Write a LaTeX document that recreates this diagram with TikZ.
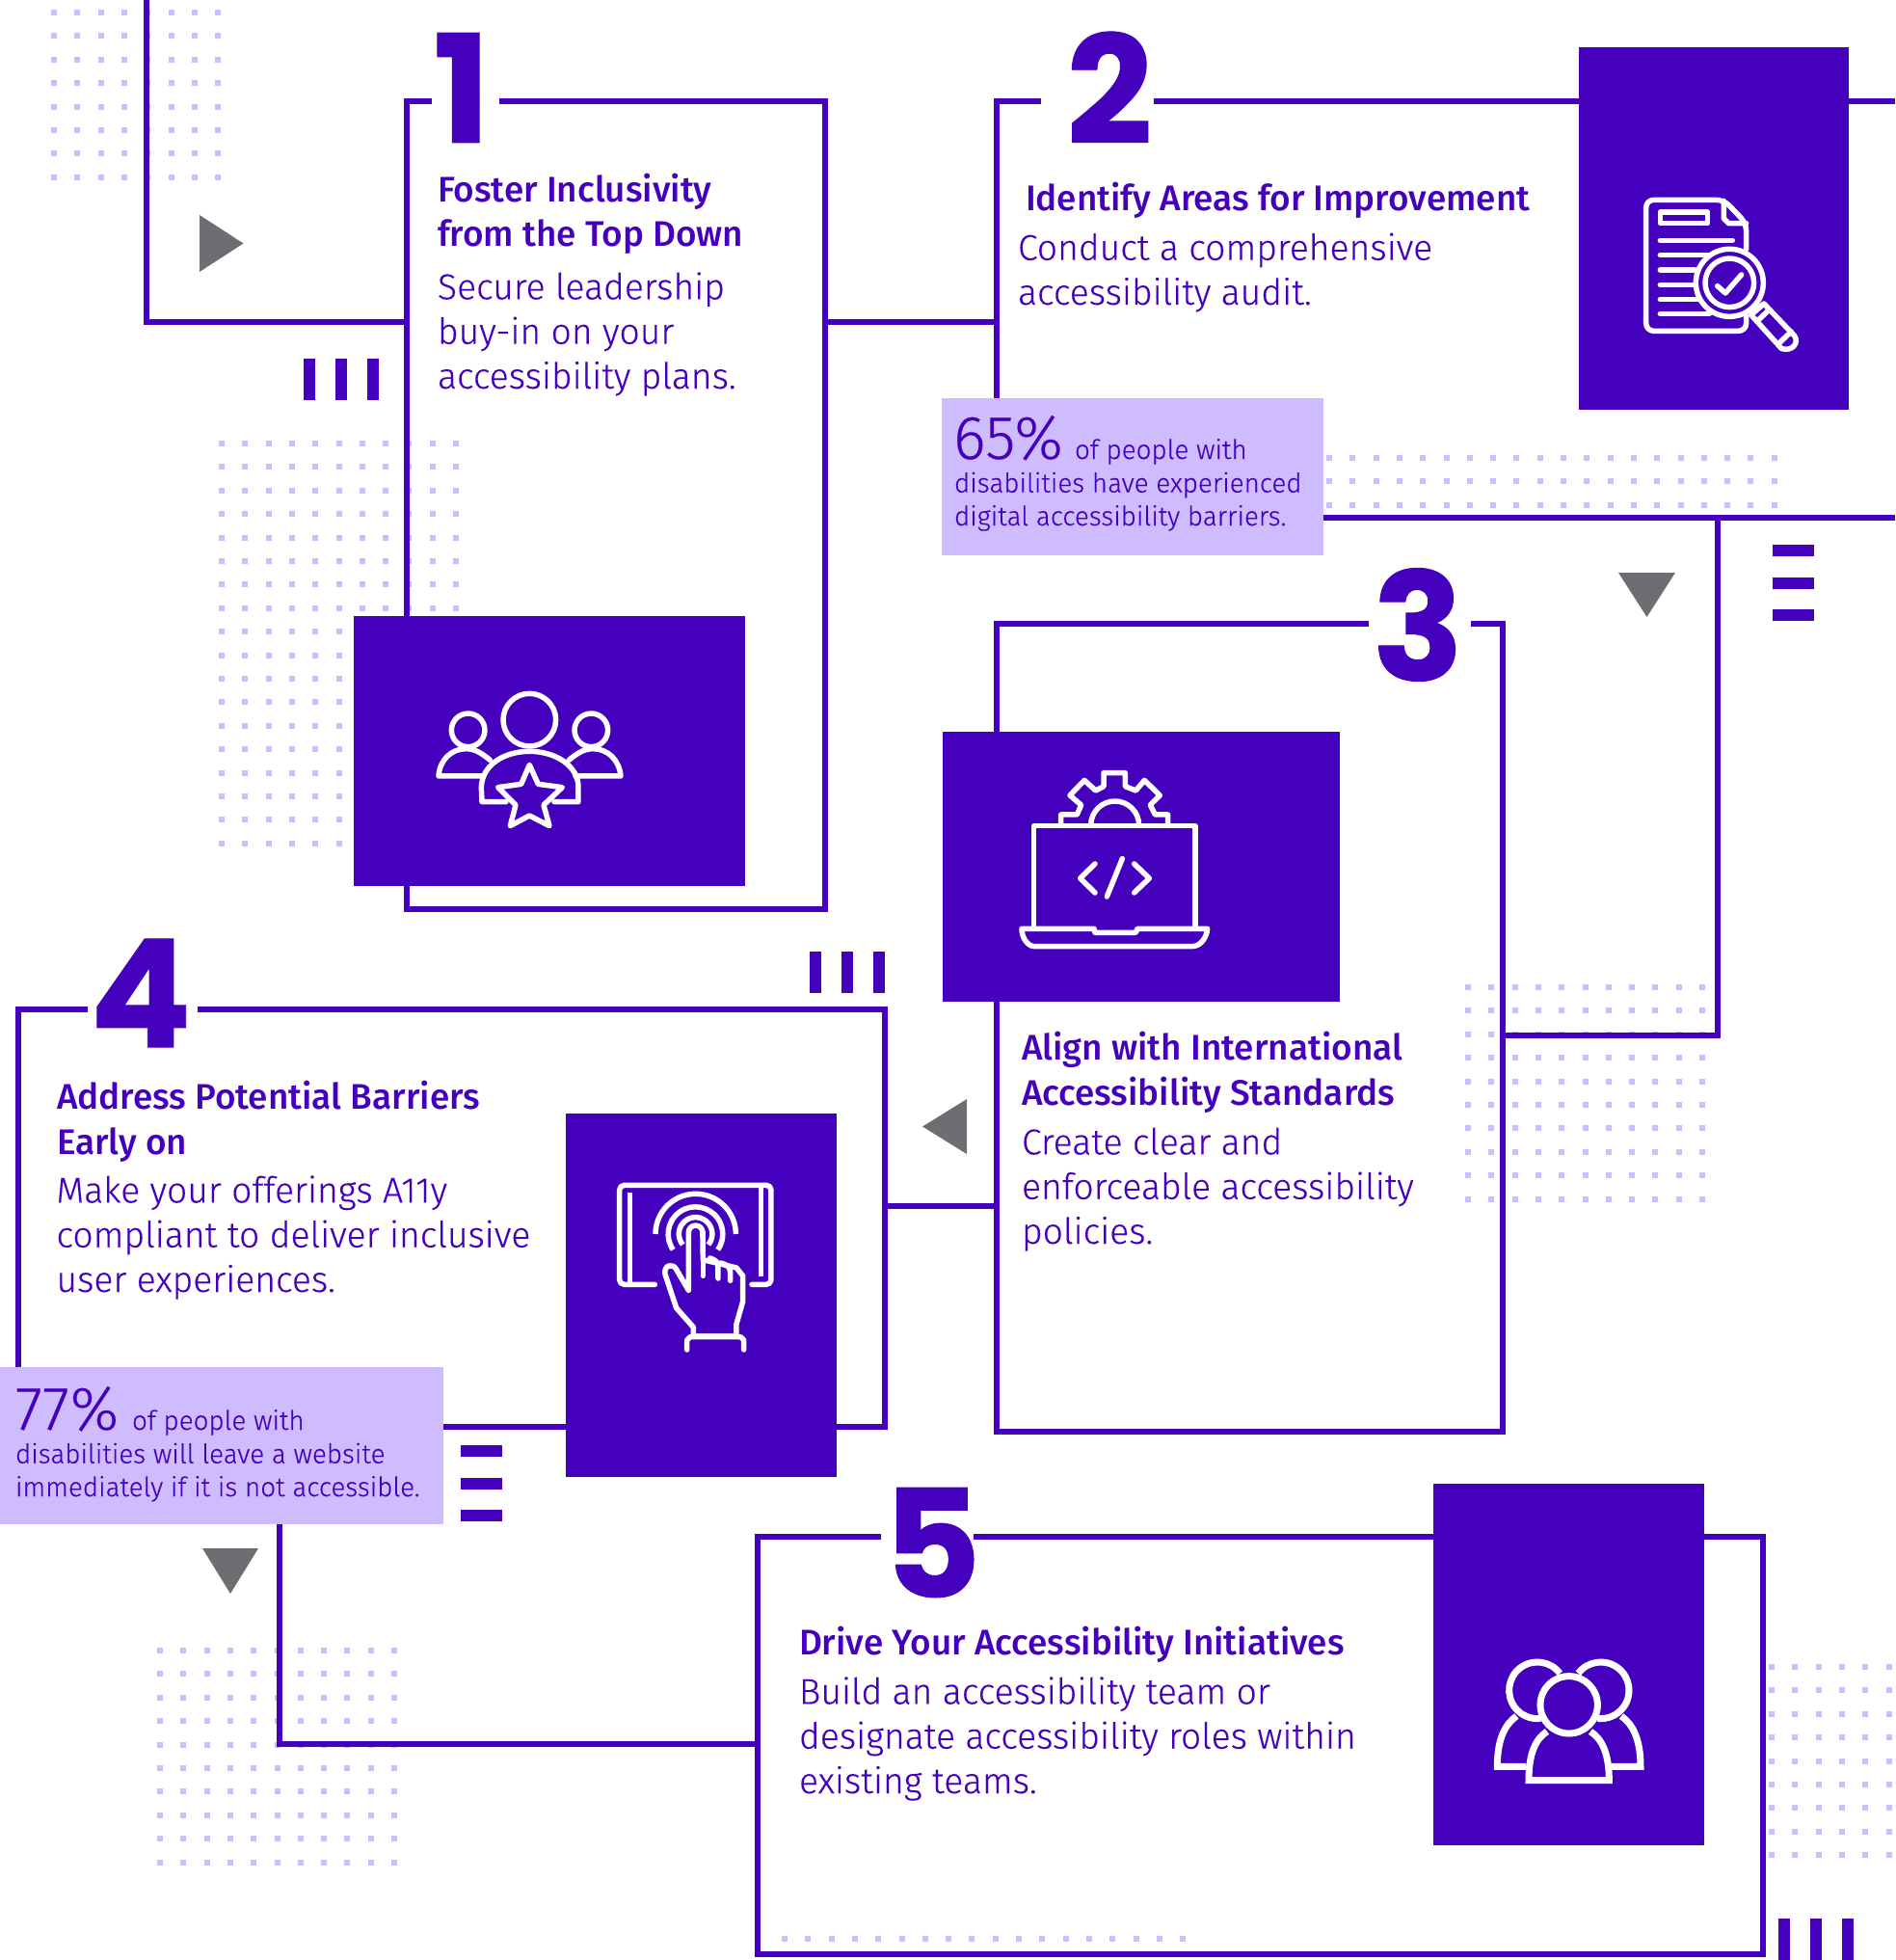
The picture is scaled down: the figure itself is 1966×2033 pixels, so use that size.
\documentclass[tikz,border=0pt]{standalone}
\usepackage{fontspec}
\setmainfont{Fira Sans}
\newfontfamily\fhead{Fira Sans Medium}
\newfontfamily\fbody[FakeBold=0.25]{Fira Sans Light}
\newfontfamily\fnum[FakeBold=0.6]{Poppins Bold}
\definecolor{pur}{HTML}{4400BD}
\definecolor{lav}{HTML}{CFBCFF}
\definecolor{gry}{HTML}{6D6E71}
\newcommand{\dotgrid}[4]{\foreach \i in {1,...,#3}{\foreach \j in {1,...,#4}{\fill[lav] ({#1+(\i-1)*24.3},{#2+(\j-1)*24.4}) rectangle ++(6,6);}}}
\newcommand{\vbars}[2]{\foreach \k in {0,1,2}{\fill[pur] ({#1+\k*33},#2) rectangle ++(12,43);}}
\newcommand{\hbars}[2]{\foreach \k in {0,1,2}{\fill[pur] (#1,{#2+\k*33.5}) rectangle ++(43,12);}}
\tikzset{
  conn/.style={draw=pur,line width=6pt,line cap=butt,line join=miter},
  boxn/.style={draw=pur,line width=6pt,rectangle,inner sep=0pt,outer sep=0pt},
  tile/.style={fill=pur,rectangle,inner sep=0pt,outer sep=0pt},
  callout/.style={fill=lav,rectangle,inner sep=0pt,outer sep=0pt},
  numn/.style={text=pur,inner sep=0pt,outer sep=0pt,font=\fnum\fontsize{156}{156}\selectfont},
  head/.style={text=pur,inner sep=0pt,outer sep=0pt,anchor=base west,align=left,font=\fhead\fontsize{36.9}{46.3}\selectfont},
  body/.style={text=pur,inner sep=0pt,outer sep=0pt,anchor=base west,align=left,font=\fbody\fontsize{37.3}{46.3}\selectfont},
  tiny/.style={text=pur,inner sep=0pt,outer sep=0pt,anchor=base west,align=left,font=\fbody\fontsize{27.8}{34.3}\selectfont},
  big/.style={text=pur,inner sep=0pt,outer sep=0pt,anchor=base west,font=\fbody\fontsize{64}{64}\selectfont},
  icon/.style={draw=white,line width=5.5pt,line cap=round,line join=round},
  tri/.style={fill=gry},
  gapfill/.style={fill=white},
}
\begin{document}
\begin{tikzpicture}[x=1pt,y=-1pt]
\useasboundingbox (0,0) rectangle (1966,2033);
% dot fields
\dotgrid{53}{10}{8}{8}
\dotgrid{227}{457}{11}{18}
\dotgrid{1376}{472}{20}{3}
\dotgrid{1520}{1021}{11}{10}
\dotgrid{163}{1709}{11}{10}
\dotgrid{1835}{1726}{6}{9}
\dotgrid{811}{2008}{18}{1}
% boxes
\node[boxn,minimum width=434pt,minimum height=838pt] (box1) at (639,524) {};
\coordinate (box2w) at (1034,105);
\coordinate (box2e) at (1966,537);
\draw[conn] (1966,105) -- (box2w) -- (1034,537) -- (box2e);
\node[boxn,minimum width=525pt,minimum height=838pt] (box3) at (1296.5,1066) {};
\node[boxn,minimum width=899pt,minimum height=433pt] (box4) at (468.5,1263.5) {};
\node[boxn,minimum width=1043pt,minimum height=433pt] (box5) at (1307.5,1810.5) {};
% connectors
\coordinate (start) at (151.5,0);
\coordinate (j01) at (0,334);
\coordinate (j23) at (1782,1074);
\coordinate (j34) at (0,1251);
\coordinate (j45) at (289.5,1809);
\draw[conn] (start) |- (box1.west |- j01);
\draw[conn] (box1.east |- j01) -- (box2w |- j01);
\draw[conn] (j23 |- box2e) -- (j23) -- (box3.east |- j23);
\draw[conn] (box3.west |- j34) -- (box4.east |- j34);
\draw[conn] (j45 |- box4.south) -- (j45) -- (box5.west |- j45);
% gaps in the frames for the numbers
\fill[gapfill] (448,95) rectangle (518,115);
\fill[gapfill] (1080,95) rectangle (1197,115);
\fill[gapfill] (1420,637) rectangle (1526,657);
\fill[gapfill] (91,1037) rectangle (205,1057);
\fill[gapfill] (914,1584) rectangle (1010,1604);
% tiles
\node[tile,minimum width=406pt,minimum height=280pt] (tile1) at (570,779) {};
\node[tile,minimum width=280pt,minimum height=376pt] (tile2) at (1778,237) {};
\node[tile,minimum width=412pt,minimum height=280pt] (tile3) at (1184,899) {};
\node[tile,minimum width=281pt,minimum height=377pt] (tile4) at (727.5,1343.5) {};
\node[tile,minimum width=281pt,minimum height=375pt] (tile5) at (1627.5,1726.5) {};
% numbers
\node[numn] (n1) at (479,91) {1};
\node[numn] (n2) at (1151,91) {2};
\node[numn] (n3) at (1471,648) {3};
\node[numn] (n4) at (146,1030) {4};
\node[numn] (n5) at (967,1600) {5};
% callouts
\node[callout,minimum width=396pt,minimum height=163pt] (call1) at (1175,494.5) {};
\node[callout,minimum width=460pt,minimum height=163pt] (call2) at (230,1499.5) {};
% marks
\vbars{314.5}{372}
\vbars{840}{987}
\vbars{1845}{1990}
\hbars{1839}{565}
\hbars{477.5}{1499}
\fill[tri] (207,223) -- (252.5,252.5) -- (207,282) -- cycle;
\fill[tri] (1679,594) -- (1738,594) -- (1708.5,640) -- cycle;
\fill[tri] (1003,1140) -- (1003,1197) -- (957,1168.5) -- cycle;
\fill[tri] (210,1606) -- (268,1606) -- (239,1653) -- cycle;
% texts
\node[head] (h1) at (454,256) {Foster Inclusivity\\from the Top Down};
\node[body] (b1) at (454,403) {Secure leadership\\buy-in on your\\accessibility plans.};
\node[head] (h2) at (1064,219) {Identify Areas for Improvement};
\node[body] (b2) at (1056,316) {Conduct a comprehensive\\accessibility audit.};
\node[head] (h3) at (1060,1146) {Align with International\\Accessibility Standards};
\node[body] (b3) at (1060,1290) {Create clear and\\enforceable accessibility\\policies.};
\node[head] (h4) at (59,1197) {Address Potential Barriers\\Early on};
\node[body] (b4) at (58.5,1340) {Make your offerings A11y\\compliant to deliver inclusive\\user experiences.};
\node[head] (h5) at (829,1716) {Drive Your Accessibility Initiatives};
\node[body] (b5) at (829,1860) {Build an accessibility team or\\designate accessibility roles within\\existing teams.};
\node[big] (p1) at (989,476) {65\%};
\node[tiny] (t1a) at (1115,476) {of people with};
\node[tiny] (t1) at (990,545) {disabilities have experienced\\digital accessibility barriers.};
\node[big] (p2) at (16,1483) {77\%};
\node[tiny] (t2a) at (137,1483) {of people with};
\node[tiny] (t2) at (16,1552) {disabilities will leave a website\\immediately if it is not accessible.};
% icon 1
\begin{scope}[shift={(420,680)},x=0.3333pt,y=-0.3333pt]
\draw[icon] (197,232) circle[radius=17.3pt];
\draw[icon] (580,232) circle[radius=17.3pt];
\draw[icon] (388,200) circle[radius=27.3pt];
\draw[icon] (265,325) .. controls (235,300) and (215,290) .. (190,290) .. controls (145,290) and (108,325) .. (105,375) -- (245,375);
\draw[icon] (511,325) .. controls (541,300) and (561,290) .. (586,290) .. controls (631,290) and (668,325) .. (672,375) -- (531,375);
\draw[icon] (315,455) -- (240,455) -- (238,410) .. controls (240,340) and (310,298) .. (388,298) .. controls (465,298) and (540,340) .. (540,410) -- (540,455) -- (465,455);
\draw[icon,fill=pur] (388,340) -- (415,400) -- (490,410) -- (432,465) -- (450,530) -- (388,498) -- (328,530) -- (345,465) -- (290,410) -- (362,400) -- cycle;
\end{scope}
% icon 2
\begin{scope}[shift={(1640,180)},x=0.3333pt,y=-0.3333pt]
\draw[icon,rounded corners=8pt] (515,235) -- (515,155) -- (445,82) -- (203,82) -- (203,490) -- (515,490) -- (515,445);
\draw[icon] (445,85) -- (445,140) -- (460,155) -- (515,155);
\draw[icon] (247,120) rectangle (395,155);
\draw[icon] (247,208) -- (472,208);
\draw[icon] (247,254) -- (395,254);
\draw[icon] (247,300) -- (355,300);
\draw[icon] (247,346) -- (355,346);
\draw[icon] (247,392) -- (365,392);
\draw[icon] (247,437) -- (400,437);
\draw[icon] (463,340) circle[radius=35pt];
\draw[icon] (463,340) circle[radius=25.3pt];
\draw[icon] (425,350) -- (450,372) -- (500,315);
\draw[icon] (530,440) -- (570,405) -- (665,505) .. controls (680,525) and (660,555) .. (625,545) -- cycle;
\draw[icon] (548,460) -- (585,425);
\draw[icon] (620,525) -- (655,492);
\end{scope}
% icon 3
\begin{scope}[shift={(1030,770)},x=0.3333pt,y=-0.3333pt]
\draw[icon] (128,575) -- (128,260) -- (630,260) -- (630,575);
\draw[icon] (90,580) -- (315,580) -- (318,592) -- (445,592) -- (450,580) -- (668,580) .. controls (665,610) and (645,635) .. (620,635) -- (130,635) .. controls (110,635) and (90,610) .. (90,580) -- cycle;
\draw[icon] (212,255) -- (212,225) -- (262,225) -- (275,195) -- (240,165) -- (285,118) -- (320,150) -- (345,137) -- (345,95) -- (412,95) -- (412,137) -- (445,150) -- (472,118) -- (520,165) -- (490,195) -- (505,225) -- (545,225) -- (545,255);
\draw[icon] (305,258) arc[start angle=180,end angle=0,radius=25pt];
\draw[icon] (318,378) -- (272,423) -- (318,468);
\draw[icon] (440,378) -- (487,423) -- (440,468);
\draw[icon] (403,362) -- (355,480);
\end{scope}
% icon 4
\begin{scope}[shift={(620,1200)},x=0.3333pt,y=-0.3333pt]
\draw[icon,rounded corners=5pt] (178,397) -- (68,397) -- (68,88) -- (540,88) -- (540,397) -- (480,397);
\draw[icon,line cap=butt] (100,112) -- (100,392);
\draw[icon,line cap=butt] (508,92) -- (508,372);
\draw[icon,line cap=butt] (180,240) arc[start angle=180,end angle=0,radius=41.7pt];
\draw[icon,line cap=butt] (235,289) arc[start angle=215,end angle=-35,radius=28.3pt];
\draw[icon,line cap=butt] (265,273) arc[start angle=220,end angle=-40,radius=17.3pt];
\draw[icon,fill=pur] (283,415) -- (283,235) arc[start angle=180,end angle=0,radius=7.3pt] -- (328,320) -- (432,345) -- (452,370) -- (452,450) -- (432,520) -- (432,558) -- (298,558) -- (298,530) -- (245,470) -- (210,365) .. controls (205,335) and (235,330) .. (245,350) -- cycle;
\draw[icon] (328,235) -- (328,370);
\draw[icon] (350,315) .. controls (365,320) and (375,325) .. (375,345) -- (375,378);
\draw[icon] (382,330) .. controls (405,335) and (413,345) .. (413,360) -- (413,385);
\draw[icon] (278,600) -- (278,570) -- (288,560) -- (445,560) -- (455,570) -- (455,600);
\end{scope}
% icon 5
\begin{scope}[shift={(1530,1690)},x=0.3333pt,y=-0.3333pt]
\tikzset{icon5/.style={draw=white,line width=7pt,line cap=butt,line join=miter}}
\draw[icon5] (265,137) arc[start angle=37,end angle=277,radius=29.3pt];
\draw[icon5] (322,137) arc[start angle=143,end angle=-97,radius=29.3pt];
\draw[icon5] (293,235) circle[radius=29.7pt];
\draw[icon5] (130,270) .. controls (95,295) and (70,340) .. (70,427) -- (160,427);
\draw[icon5] (456,270) .. controls (491,295) and (516,340) .. (516,427) -- (426,427);
\draw[icon5] (225,318) .. controls (190,340) and (168,385) .. (168,470) -- (418,470) .. controls (418,385) and (395,340) .. (360,318);
\end{scope}
\end{tikzpicture}
\end{document}
